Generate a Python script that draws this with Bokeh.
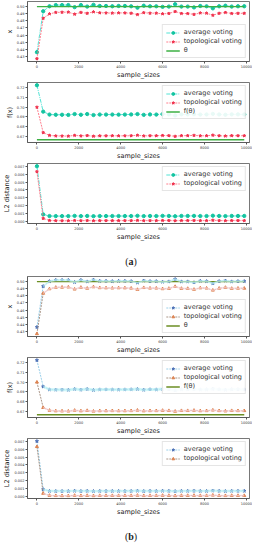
from bokeh.plotting import figure
from bokeh.models import (ColumnDataSource, Legend, LegendItem, FixedTicker,
                          NumeralTickFormatter, Range1d, Div, Band)
from bokeh.layouts import column
from bokeh.embed import file_html
from bokeh.resources import INLINE

sample_sizes = [0, 300, 600, 900, 1200, 1500, 1800, 2100, 2400, 2700, 3000, 3300,
                3600, 3900, 4200, 4500, 4800, 5100, 5400, 5700, 6000, 6300, 6600,
                6900, 7200, 7500, 7800, 8100, 8400, 8700, 9000, 9300, 9600, 9900]

x_avg = [0.4360, 0.4934, 0.5004, 0.5021, 0.5021, 0.5021, 0.4992, 0.5021, 0.5000,
         0.5025, 0.5008, 0.5008, 0.5004, 0.5008, 0.5008, 0.5004, 0.4984, 0.5012,
         0.5004, 0.5004, 0.4996, 0.5000, 0.5033, 0.5000, 0.5000, 0.4988, 0.5008,
         0.5004, 0.4975, 0.5004, 0.5012, 0.5000, 0.5004, 0.5004]
x_topo = [0.4267, 0.4835, 0.4897, 0.4918, 0.4920, 0.4922, 0.4893, 0.4918, 0.4905,
          0.4925, 0.4912, 0.4910, 0.4908, 0.4911, 0.4910, 0.4906, 0.4888, 0.4914,
          0.4907, 0.4907, 0.4898, 0.4903, 0.4930, 0.4903, 0.4902, 0.4890, 0.4910,
          0.4907, 0.4878, 0.4905, 0.4917, 0.4903, 0.4905, 0.4905]
theta = 0.50

f_avg = [0.7225, 0.6955, 0.6925, 0.6923, 0.6923, 0.6921, 0.6930, 0.6923, 0.6930,
         0.6920, 0.6925, 0.6925, 0.6925, 0.6924, 0.6925, 0.6926, 0.6930, 0.6922,
         0.6926, 0.6925, 0.6930, 0.6927, 0.6916, 0.6927, 0.6927, 0.6929, 0.6925,
         0.6926, 0.6932, 0.6926, 0.6923, 0.6927, 0.6927, 0.6926]
f_topo = [0.7000, 0.6740, 0.6712, 0.6706, 0.6705, 0.6704, 0.6712, 0.6706, 0.6710,
          0.6703, 0.6707, 0.6707, 0.6708, 0.6707, 0.6707, 0.6708, 0.6713, 0.6706,
          0.6708, 0.6708, 0.6711, 0.6709, 0.6702, 0.6709, 0.6709, 0.6712, 0.6707,
          0.6708, 0.6714, 0.6708, 0.6705, 0.6709, 0.6708, 0.6708]
f_theta = 0.6667

l2_avg = [0.00705, 0.00086, 0.00065, 0.00064, 0.00064, 0.00064, 0.00067, 0.00064,
          0.00066, 0.00063, 0.00065, 0.00065, 0.00065, 0.00065, 0.00065, 0.00065,
          0.00068, 0.00064, 0.00066, 0.00065, 0.00067, 0.00066, 0.00062, 0.00066,
          0.00066, 0.00067, 0.00065, 0.00065, 0.00069, 0.00066, 0.00064, 0.00066,
          0.00066, 0.00066]
l2_topo = [0.00635, 0.00034, 0.00008, 0.00005, 0.00004, 0.00004, 0.00008, 0.00005,
           0.00007, 0.00004, 0.00006, 0.00006, 0.00006, 0.00006, 0.00006, 0.00006,
           0.00009, 0.00005, 0.00006, 0.00006, 0.00008, 0.00007, 0.00004, 0.00007,
           0.00007, 0.00008, 0.00006, 0.00006, 0.00011, 0.00006, 0.00005, 0.00007,
           0.00007, 0.00006]

# half-widths of the shaded bands in (b)
band_hw_x = [0.0015, 0.0012]
band_hw_f = [0.0015, 0.0009]
band_hw_l2 = [0.00016, 0.00010]

x_ticks = [0, 2000, 4000, 6000, 8000, 10000]
x_panel_ticks = [0.43, 0.44, 0.45, 0.46, 0.47, 0.48, 0.49, 0.50]
f_ticks = [0.67, 0.68, 0.69, 0.70, 0.71, 0.72]
l2_ticks = [0.000, 0.001, 0.002, 0.003, 0.004, 0.005, 0.006, 0.007]

FONT = "DejaVu Sans"

STYLE_A = dict(avg_marker="circle", avg_mcolor="#14c4a0", avg_lcolor="#3fe0d0", avg_dash="4 1 1 1",
               topo_marker="star", topo_mcolor="#f0304c", topo_lcolor="#ff6f80", topo_dash="2 1",
               ref_color="#3cb043", bands=False)
STYLE_B = dict(avg_marker="star", avg_mcolor="#4c6fb5", avg_lcolor="#8fc9e6", avg_dash="2 1",
               topo_marker="triangle", topo_mcolor="#dd8452", topo_lcolor="#a08a7a", topo_dash="2 1",
               ref_color="#6b8e23", bands=True)


def make_panel(ylab, avg, topo, ref, ref_label, yrange, yticks, fmt, loc, st, hw):
    p = figure(width=252, height=81, output_backend="svg", toolbar_location=None,
               x_range=Range1d(-450, 10150), y_range=Range1d(*yrange),
               min_border_left=19, min_border_right=3, min_border_top=1,
               min_border_bottom=0, background_fill_color="white")
    p.xgrid.visible = False
    p.ygrid.visible = False
    p.outline_line_color = "#555555"
    p.outline_line_width = 0.8
    src = ColumnDataSource(dict(x=sample_sizes, avg=avg, topo=topo,
                                a_lo=[v - hw[0] for v in avg], a_hi=[v + hw[0] for v in avg],
                                t_lo=[v - hw[1] for v in topo], t_hi=[v + hw[1] for v in topo]))
    if st["bands"]:
        bsrc = ColumnDataSource({k: v[1:] for k, v in src.data.items()})
        p.add_layout(Band(base="x", lower="a_lo", upper="a_hi", source=bsrc,
                          fill_color="#bff3f7", fill_alpha=0.7, line_color=None))
        p.add_layout(Band(base="x", lower="t_lo", upper="t_hi", source=bsrc,
                          fill_color="#fcd5dc", fill_alpha=0.7, line_color=None))
    items = []
    l1 = p.line("x", "avg", source=src, line_color=st["avg_lcolor"], line_width=0.9,
                line_dash=st["avg_dash"])
    m1 = p.scatter("x", "avg", source=src, marker=st["avg_marker"], size=3.3,
                   fill_color=st["avg_mcolor"], line_color=st["avg_mcolor"])
    items.append(LegendItem(label="average voting", renderers=[l1, m1]))
    l2 = p.line("x", "topo", source=src, line_color=st["topo_lcolor"], line_width=0.9,
                line_dash=st["topo_dash"])
    m2 = p.scatter("x", "topo", source=src, marker=st["topo_marker"], size=3,
                   fill_color=st["topo_mcolor"], line_color=st["topo_mcolor"])
    items.append(LegendItem(label="topological voting", renderers=[l2, m2]))
    if ref is not None:
        rsrc = ColumnDataSource(dict(x=sample_sizes, y=[ref] * len(sample_sizes)))
        r = p.line("x", "y", source=rsrc, line_color=st["ref_color"], line_width=1.3)
        items.append(LegendItem(label=ref_label, renderers=[r]))
    leg = Legend(items=items, location=loc, label_text_font=FONT,
                 label_text_font_size="6.5px", label_text_color="#333333",
                 glyph_width=14, glyph_height=7, label_height=7, label_standoff=4,
                 spacing=1, padding=3, margin=3, border_line_color="#cccccc",
                 border_line_width=0.8, background_fill_alpha=0.9)
    p.add_layout(leg)
    for ax in (p.xaxis[0], p.yaxis[0]):
        ax.major_label_text_font = FONT
        ax.major_label_text_font_size = "3.5px"
        ax.major_label_text_color = "#333333"
        ax.axis_label_text_font = FONT
        ax.axis_label_text_font_size = "6.5px"
        ax.axis_label_text_font_style = "normal"
        ax.axis_label_text_color = "#222222"
        ax.axis_line_color = "#555555"
        ax.axis_line_width = 0.8
        ax.major_tick_line_color = "#555555"
        ax.major_tick_out = 2
        ax.major_tick_in = 0
        ax.minor_tick_line_color = None
        ax.major_label_standoff = 1
        ax.axis_label_standoff = 0
    p.xaxis[0].ticker = FixedTicker(ticks=x_ticks)
    p.xaxis[0].formatter = NumeralTickFormatter(format="0")
    p.xaxis[0].axis_label = "sample_sizes"
    p.yaxis[0].ticker = FixedTicker(ticks=yticks)
    p.yaxis[0].formatter = NumeralTickFormatter(format=fmt)
    p.yaxis[0].axis_label = ylab
    return p


def caption(letter):
    return Div(text=f"(<b>{letter}</b>)", width=252, height=22,
               styles={"text-align": "center", "font-family": "Liberation Serif",
                       "font-size": "10px", "color": "#222", "padding-top": "7px",
                       "box-sizing": "border-box"})


panels = []
for st, letter in ((STYLE_A, "a"), (STYLE_B, "b")):
    panels.append(make_panel("x", x_avg, x_topo, theta, "θ", (0.4229, 0.5071),
                             x_panel_ticks, "0.00", "bottom_right", st, band_hw_x))
    panels.append(make_panel("f(x)", f_avg, f_topo, f_theta, "f(θ)", (0.6639, 0.7253),
                             f_ticks, "0.00", "top_right", st, band_hw_f))
    panels.append(make_panel("L2 distance", l2_avg, l2_topo, None, None, (-0.00031, 0.0074),
                             l2_ticks, "0.000", "top_right", st, band_hw_l2))
    panels.append(caption(letter))

layout = column(*panels, spacing=0)
open("out.html", "w").write(file_html(layout, INLINE))
